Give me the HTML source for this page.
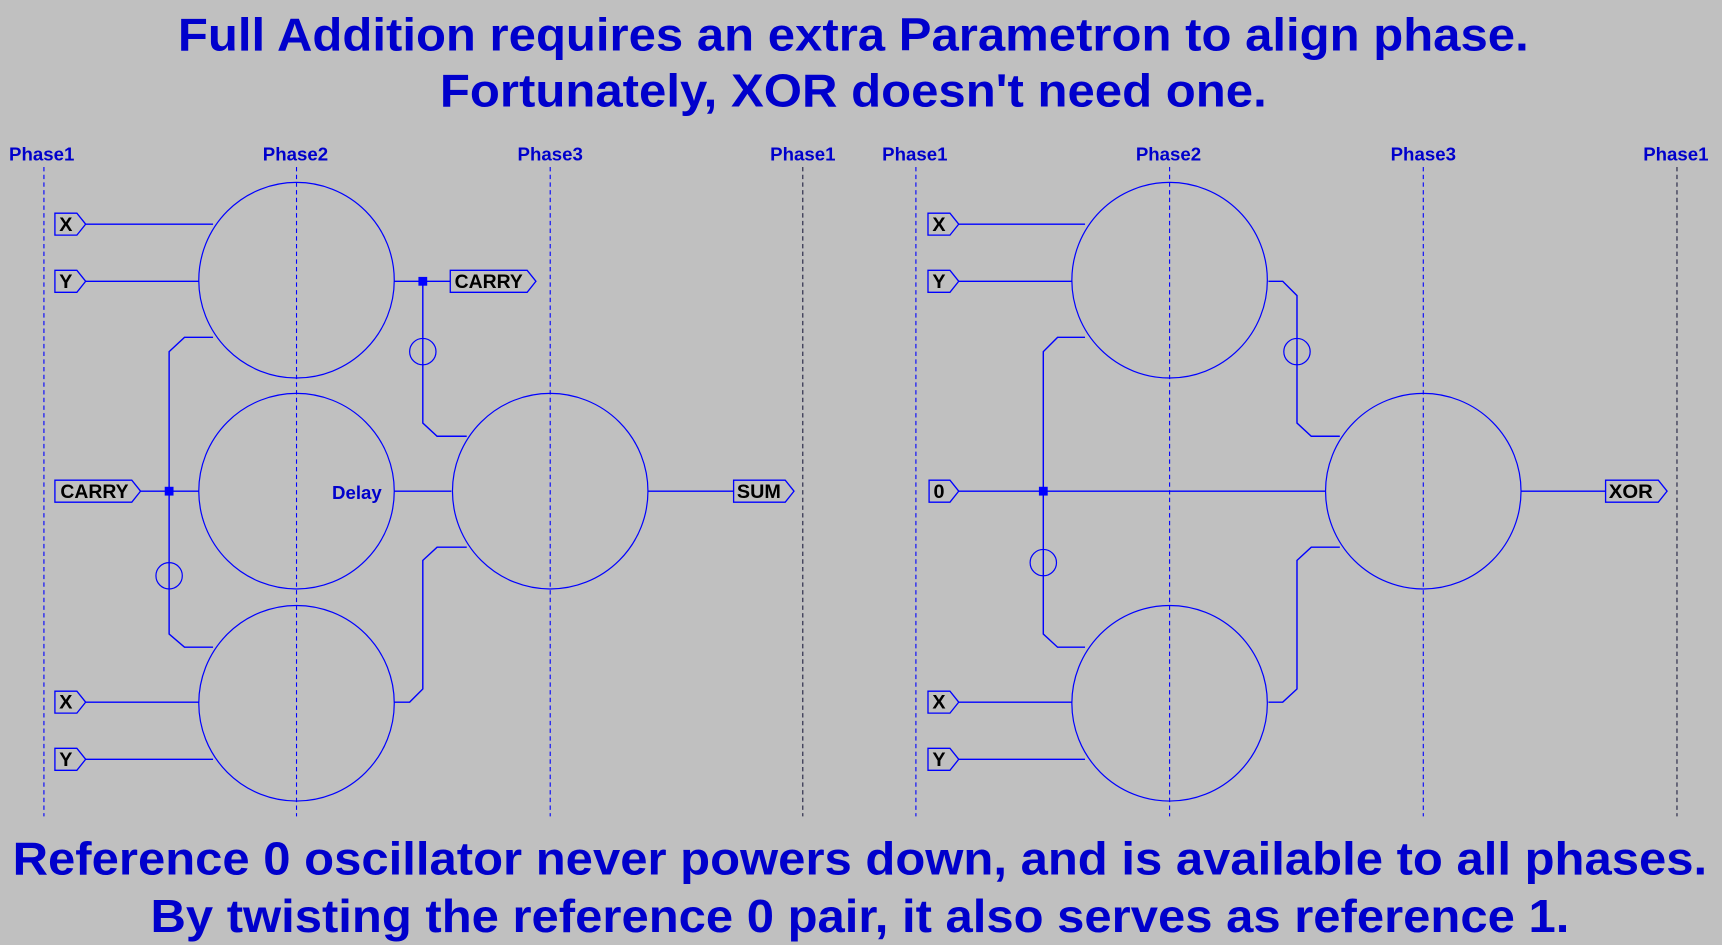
<!DOCTYPE html>
<html><head><meta charset="utf-8"><style>
html,body{margin:0;padding:0;background:#c0c0c0;}
svg{display:block}
.t{font-family:"Liberation Sans",sans-serif;font-weight:bold;fill:#0000cc;text-anchor:middle}
.lb{font-family:"Liberation Sans",sans-serif;font-weight:bold;font-size:18px;fill:#000}
.w{stroke:#0000ff;stroke-width:1.3;fill:none}
.d{stroke:#0000ff;stroke-width:1;stroke-dasharray:4,3;fill:none}
.dk{stroke:#202040;stroke-width:1;stroke-dasharray:4,3;fill:none}
.c{stroke:#0000ff;stroke-width:1.1;fill:none}
.bx{stroke:#0000ff;stroke-width:1.2;fill:#c0c0c0}
</style></head><body>
<svg width="1722" height="945" viewBox="0 0 1568 860" preserveAspectRatio="none" xmlns="http://www.w3.org/2000/svg">
<rect width="1568" height="860" fill="#c0c0c0"/>
<text class="t" x="777" y="46" font-size="42" textLength="1230" lengthAdjust="spacingAndGlyphs">Full Addition requires an extra Parametron to align phase.</text>
<text class="t" x="777" y="97" font-size="42" textLength="753" lengthAdjust="spacingAndGlyphs">Fortunately, XOR doesn't need one.</text>
<text class="t" x="783" y="796" font-size="42" textLength="1543" lengthAdjust="spacingAndGlyphs">Reference 0 oscillator never powers down, and is available to all phases.</text>
<text class="t" x="783" y="848" font-size="42" textLength="1292" lengthAdjust="spacingAndGlyphs">By twisting the reference 0 pair, it also serves as reference 1.</text>

<g class="t" font-size="17">
<text x="38" y="146">Phase1</text><text x="269" y="146">Phase2</text><text x="501" y="146">Phase3</text><text x="731" y="146">Phase1</text>
<text x="833" y="146">Phase1</text><text x="1064" y="146">Phase2</text><text x="1296" y="146">Phase3</text><text x="1526" y="146">Phase1</text>
</g>
<path class="dk" d="M731 152V743M1527 152V743"/>
<path class="d" d="M40 152V743M834 152V743M270 152V743M501 152V743M1065 152V743M1296 152V743"/>

<circle class="c" cx="270" cy="255" r="89"/>
<circle class="c" cx="270" cy="447" r="89"/>
<circle class="c" cx="270" cy="640" r="89"/>
<circle class="c" cx="501" cy="447" r="89"/>
<circle class="c" cx="1065" cy="255" r="89"/>
<circle class="c" cx="1296" cy="447" r="89"/>
<circle class="c" cx="1065" cy="640" r="89"/>

<path class="w" d="M78 204H194M78 256H181M359 256H410M385 256V385L398 397H425M128 447H181M359 447H411M590 447H668M194 307H168L154 320V577L168 589H194M78 639H181M78 691H194M359 639H373L385 627V510L398 498H425"/>
<circle class="c" cx="385" cy="320" r="12"/>
<circle class="c" cx="154" cy="524" r="12"/>
<rect x="381" y="252" width="8" height="8" fill="#0000ff"/>
<rect x="150" y="443" width="8" height="8" fill="#0000ff"/>
<text class="t" x="325" y="454" font-size="17">Delay</text>

<path class="w" d="M873 204H988M873 256H976M1155 256H1168L1181 269V385L1194 397H1220M988 307H963L950 320V577L963 589H988M873 447H1207M1385 447H1462M873 639H976M873 691H988M1155 639H1168L1181 627V510L1194 498H1220"/>
<circle class="c" cx="1181" cy="320" r="12"/>
<circle class="c" cx="950" cy="512" r="12"/>
<rect x="946" y="443" width="8" height="8" fill="#0000ff"/>

<g>
<path class="bx" d="M50 194H70L78 204L70 214H50Z"/><text class="lb" x="54" y="210">X</text>
<path class="bx" d="M50 246H70L78 256L70 266H50Z"/><text class="lb" x="54" y="262">Y</text>
<path class="bx" d="M50 437H120L128 447L120 457H50Z"/><text class="lb" x="55" y="453" textLength="62" lengthAdjust="spacingAndGlyphs">CARRY</text>
<path class="bx" d="M50 629H70L78 639L70 649H50Z"/><text class="lb" x="54" y="645">X</text>
<path class="bx" d="M50 681H70L78 691L70 701H50Z"/><text class="lb" x="54" y="697">Y</text>
<path class="bx" d="M410 246H480L488 256L480 266H410Z"/><text class="lb" x="414" y="262" textLength="62" lengthAdjust="spacingAndGlyphs">CARRY</text>
<path class="bx" d="M668 437H715L723 447L715 457H668Z"/><text class="lb" x="671" y="453" textLength="40" lengthAdjust="spacingAndGlyphs">SUM</text>

<path class="bx" d="M845 194H865L873 204L865 214H845Z"/><text class="lb" x="849" y="210">X</text>
<path class="bx" d="M845 246H865L873 256L865 266H845Z"/><text class="lb" x="849" y="262">Y</text>
<path class="bx" d="M846 437H865L873 447L865 457H846Z"/><text class="lb" x="850" y="453">0</text>
<path class="bx" d="M845 629H865L873 639L865 649H845Z"/><text class="lb" x="849" y="645">X</text>
<path class="bx" d="M845 681H865L873 691L865 701H845Z"/><text class="lb" x="849" y="697">Y</text>
<path class="bx" d="M1462 437H1510L1518 447L1510 457H1462Z"/><text class="lb" x="1465" y="453" textLength="40" lengthAdjust="spacingAndGlyphs">XOR</text>
</g>
</svg>
</body></html>
